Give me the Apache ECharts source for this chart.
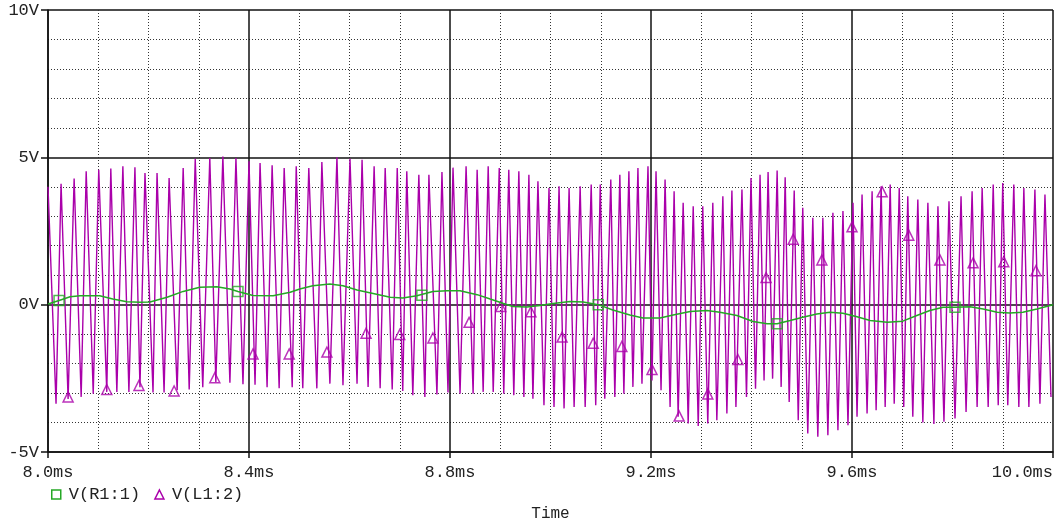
<!DOCTYPE html>
<html><head><meta charset="utf-8">
<script src="https://cdn.jsdelivr.net/npm/echarts@6/dist/echarts.min.js"></script>
<style>html,body{margin:0;padding:0;background:#fff}#c{width:1059px;height:523px}</style>
</head><body><div id="c"></div>
<script>
// Axis ticks
const xTicks = [8.0, 8.4, 8.8, 9.2, 9.6, 10.0];
const yTicks = [-5, 0, 5, 10];

// V(L1:2): peak and trough vertices of the oscillation (ms, V)
const peakTimes = [8.000, 8.026, 8.052, 8.076, 8.101, 8.125, 8.149, 8.173, 8.193, 8.217, 8.241, 8.269, 8.293, 8.322, 8.348, 8.374, 8.400, 8.422, 8.446, 8.470, 8.494, 8.519, 8.545, 8.575, 8.601, 8.625, 8.649, 8.671, 8.695, 8.714, 8.738, 8.758, 8.784, 8.806, 8.832, 8.854, 8.876, 8.898, 8.917, 8.937, 8.957, 8.975, 8.997, 9.017, 9.037, 9.059, 9.081, 9.099, 9.120, 9.138, 9.156, 9.174, 9.194, 9.210, 9.228, 9.246, 9.264, 9.284, 9.303, 9.323, 9.343, 9.361, 9.381, 9.399, 9.417, 9.433, 9.451, 9.467, 9.485, 9.502, 9.522, 9.542, 9.562, 9.582, 9.602, 9.620, 9.640, 9.658, 9.676, 9.694, 9.711, 9.731, 9.751, 9.771, 9.793, 9.817, 9.839, 9.859, 9.881, 9.900, 9.922, 9.942, 9.964, 9.984];
const peakValues = [4.0, 4.1, 4.28, 4.53, 4.58, 4.62, 4.7, 4.66, 4.47, 4.47, 4.3, 4.64, 4.95, 4.98, 5.03, 4.98, 4.87, 4.81, 4.73, 4.64, 4.7, 4.64, 4.84, 5.0, 4.95, 4.92, 4.7, 4.64, 4.64, 4.53, 4.41, 4.41, 4.5, 4.65, 4.7, 4.58, 4.7, 4.64, 4.58, 4.53, 4.41, 4.19, 3.96, 4.02, 3.96, 4.02, 4.08, 4.08, 4.25, 4.41, 4.53, 4.64, 4.7, 4.53, 4.25, 3.85, 3.46, 3.34, 3.34, 3.46, 3.68, 3.87, 3.91, 4.3, 4.41, 4.5, 4.55, 4.32, 3.87, 3.29, 2.95, 2.95, 3.12, 3.18, 3.46, 3.74, 3.85, 4.02, 4.08, 3.96, 3.68, 3.57, 3.46, 3.34, 3.51, 3.68, 3.85, 3.96, 4.08, 4.13, 4.08, 3.96, 3.91, 3.74];
const troughTimes = [8.016, 8.040, 8.066, 8.090, 8.117, 8.137, 8.161, 8.183, 8.209, 8.231, 8.257, 8.281, 8.308, 8.334, 8.362, 8.388, 8.412, 8.436, 8.460, 8.486, 8.507, 8.535, 8.561, 8.587, 8.615, 8.637, 8.661, 8.685, 8.706, 8.726, 8.750, 8.774, 8.796, 8.820, 8.846, 8.866, 8.886, 8.907, 8.927, 8.947, 8.965, 8.987, 9.007, 9.027, 9.047, 9.069, 9.090, 9.108, 9.128, 9.146, 9.164, 9.182, 9.202, 9.220, 9.238, 9.254, 9.274, 9.294, 9.313, 9.331, 9.351, 9.369, 9.390, 9.408, 9.425, 9.442, 9.459, 9.475, 9.493, 9.512, 9.532, 9.552, 9.572, 9.592, 9.610, 9.630, 9.648, 9.666, 9.684, 9.703, 9.721, 9.741, 9.763, 9.783, 9.805, 9.827, 9.849, 9.871, 9.891, 9.910, 9.932, 9.952, 9.974, 9.996];
const troughValues = [-3.36, -3.2, -3.13, -3.02, -2.96, -2.96, -2.96, -2.8, -2.98, -2.98, -2.9, -2.88, -2.8, -2.62, -2.65, -2.7, -2.72, -2.8, -2.84, -2.8, -2.84, -2.84, -2.68, -2.73, -2.68, -2.79, -2.84, -2.88, -2.93, -3.07, -3.13, -3.05, -2.98, -3.02, -3.02, -2.96, -2.96, -3.02, -3.07, -3.13, -3.19, -3.41, -3.47, -3.52, -3.47, -3.47, -3.41, -3.19, -3.13, -3.02, -2.79, -2.68, -2.57, -2.9, -3.47, -3.8, -4.03, -4.12, -4.03, -3.92, -3.69, -3.47, -3.13, -2.85, -2.57, -2.51, -2.79, -3.3, -3.92, -4.37, -4.48, -4.43, -4.26, -4.09, -3.8, -3.69, -3.58, -3.47, -3.36, -3.47, -3.8, -4.0, -4.05, -3.97, -3.86, -3.64, -3.47, -3.47, -3.41, -3.41, -3.47, -3.47, -3.36, -3.13];

// V(L1:2) triangle marker points
const triTimes = [8.040, 8.117, 8.181, 8.251, 8.332, 8.408, 8.480, 8.555, 8.633, 8.700, 8.766, 8.838, 8.901, 8.961, 9.023, 9.085, 9.142, 9.202, 9.256, 9.313, 9.373, 9.429, 9.483, 9.540, 9.600, 9.660, 9.713, 9.775, 9.841, 9.902, 9.966];
const triValues = [-3.13, -2.88, -2.74, -2.93, -2.48, -1.67, -1.67, -1.61, -0.97, -1.01, -1.13, -0.6, -0.06, -0.24, -1.1, -1.31, -1.42, -2.2, -3.78, -3.03, -1.86, 0.92, 2.22, 1.52, 2.64, 3.83, 2.36, 1.52, 1.42, 1.46, 1.15];

// V(R1:1) slow trace
const r1Times = [8.000, 8.022, 8.044, 8.064, 8.103, 8.129, 8.157, 8.183, 8.203, 8.237, 8.269, 8.302, 8.336, 8.362, 8.378, 8.408, 8.448, 8.482, 8.501, 8.527, 8.561, 8.587, 8.615, 8.647, 8.681, 8.706, 8.734, 8.766, 8.794, 8.820, 8.854, 8.880, 8.905, 8.925, 8.953, 8.979, 9.005, 9.039, 9.065, 9.095, 9.124, 9.158, 9.184, 9.218, 9.244, 9.278, 9.311, 9.337, 9.371, 9.403, 9.431, 9.451, 9.477, 9.502, 9.530, 9.556, 9.582, 9.610, 9.636, 9.670, 9.701, 9.729, 9.755, 9.781, 9.805, 9.835, 9.861, 9.889, 9.914, 9.940, 9.968, 10.000];
const r1Values = [0.02, 0.14, 0.27, 0.30, 0.30, 0.19, 0.10, 0.08, 0.09, 0.25, 0.45, 0.59, 0.61, 0.53, 0.45, 0.31, 0.30, 0.42, 0.53, 0.64, 0.70, 0.64, 0.50, 0.38, 0.25, 0.23, 0.30, 0.45, 0.47, 0.47, 0.34, 0.19, 0.05, -0.06, -0.08, -0.03, 0.04, 0.11, 0.09, 0.0, -0.18, -0.35, -0.45, -0.45, -0.35, -0.23, -0.20, -0.26, -0.37, -0.57, -0.65, -0.65, -0.54, -0.43, -0.32, -0.26, -0.29, -0.41, -0.54, -0.60, -0.56, -0.37, -0.20, -0.09, -0.09, -0.07, -0.15, -0.26, -0.28, -0.26, -0.15, 0.0];

// V(R1:1) square marker points
const sqTimes = [8.022, 8.378, 8.744, 9.095, 9.451, 9.805];
const sqValues = [0.14, 0.45, 0.32, 0.0, -0.65, -0.09];

const GREEN = '#25a825';
const MAGENTA = '#aa00aa';
const FONT = 'Liberation Mono';
const TXT = '#222';
const AX = '#111';

const zip = (a, b) => a.map((t, i) => [t, b[i]]);
const l1Data = zip(peakTimes, peakValues).concat(zip(troughTimes, troughValues)).sort((p, q) => p[0] - q[0]);

const chart = echarts.init(document.getElementById('c'), null, {renderer: 'canvas'});
chart.setOption({
  animation: false,
  backgroundColor: '#fff',
  grid: {left: 48, right: 6, top: 10, bottom: 71, containLabel: false, outerBoundsMode: 'none'},
  xAxis: {
    type: 'value', min: xTicks[0], max: xTicks[xTicks.length - 1], interval: xTicks[1] - xTicks[0],
    name: 'Time', nameLocation: 'middle', nameGap: 54,
    nameTextStyle: {fontFamily: FONT, fontSize: 16, color: TXT},
    axisLine: {onZero: false, lineStyle: {color: AX, width: 1.5}},
    axisTick: {show: true, length: 6, lineStyle: {color: AX, width: 1.5}},
    axisLabel: {formatter: v => v.toFixed(1) + 'ms', fontFamily: FONT, fontSize: 17, color: TXT, margin: 12, alignMaxLabel: 'right'},
    splitLine: {show: true, lineStyle: {color: AX, width: 1.5}},
    minorTick: {show: false, splitNumber: 4},
    minorSplitLine: {show: true, lineStyle: {color: '#333', width: 1, type: [1, 2]}}
  },
  yAxis: {
    type: 'value', min: yTicks[0], max: yTicks[yTicks.length - 1], interval: yTicks[1] - yTicks[0],
    axisLine: {show: true, lineStyle: {color: AX, width: 1.5}},
    axisTick: {show: true, length: 7, lineStyle: {color: AX, width: 1.5}},
    axisLabel: {formatter: v => v + 'V', fontFamily: FONT, fontSize: 17, color: TXT, margin: 9},
    splitLine: {show: true, lineStyle: {color: AX, width: 1.5}},
    minorTick: {show: false, splitNumber: 5},
    minorSplitLine: {show: true, lineStyle: {color: '#333', width: 1, type: [1, 2]}}
  },
  legend: {
    left: 46, top: 481, itemWidth: 9, itemHeight: 9, itemGap: 14,
    textStyle: {fontFamily: FONT, fontSize: 17, color: TXT, padding: [0, 0, 0, 3]},
    data: [
      {name: 'V(R1:1)', icon: 'rect', itemStyle: {color: 'rgba(0,0,0,0)', borderColor: GREEN, borderWidth: 1.5}},
      {name: 'V(L1:2)', icon: 'triangle', itemStyle: {color: 'rgba(0,0,0,0)', borderColor: MAGENTA, borderWidth: 1.5}}
    ]
  },
  series: [
    {name: 'V(L1:2)', type: 'line', data: l1Data, showSymbol: false, symbol: 'none', sampling: null,
     lineStyle: {color: MAGENTA, width: 1.4}, itemStyle: {color: MAGENTA}, z: 2},
    {name: 'tri', type: 'scatter', data: zip(triTimes, triValues), symbol: 'triangle', symbolSize: 10,
     itemStyle: {color: 'rgba(0,0,0,0)', borderColor: MAGENTA, borderWidth: 1.5}, z: 3},
    {name: 'V(R1:1)', type: 'line', data: zip(r1Times, r1Values), showSymbol: false, symbol: 'none',
     lineStyle: {color: GREEN, width: 1.5}, itemStyle: {color: GREEN}, z: 4},
    {name: 'sq', type: 'scatter', data: zip(sqTimes, sqValues), symbol: 'rect', symbolSize: 10,
     itemStyle: {color: 'rgba(0,0,0,0)', borderColor: GREEN, borderWidth: 1.5}, z: 5}
  ]
});
</script>
</body></html>
